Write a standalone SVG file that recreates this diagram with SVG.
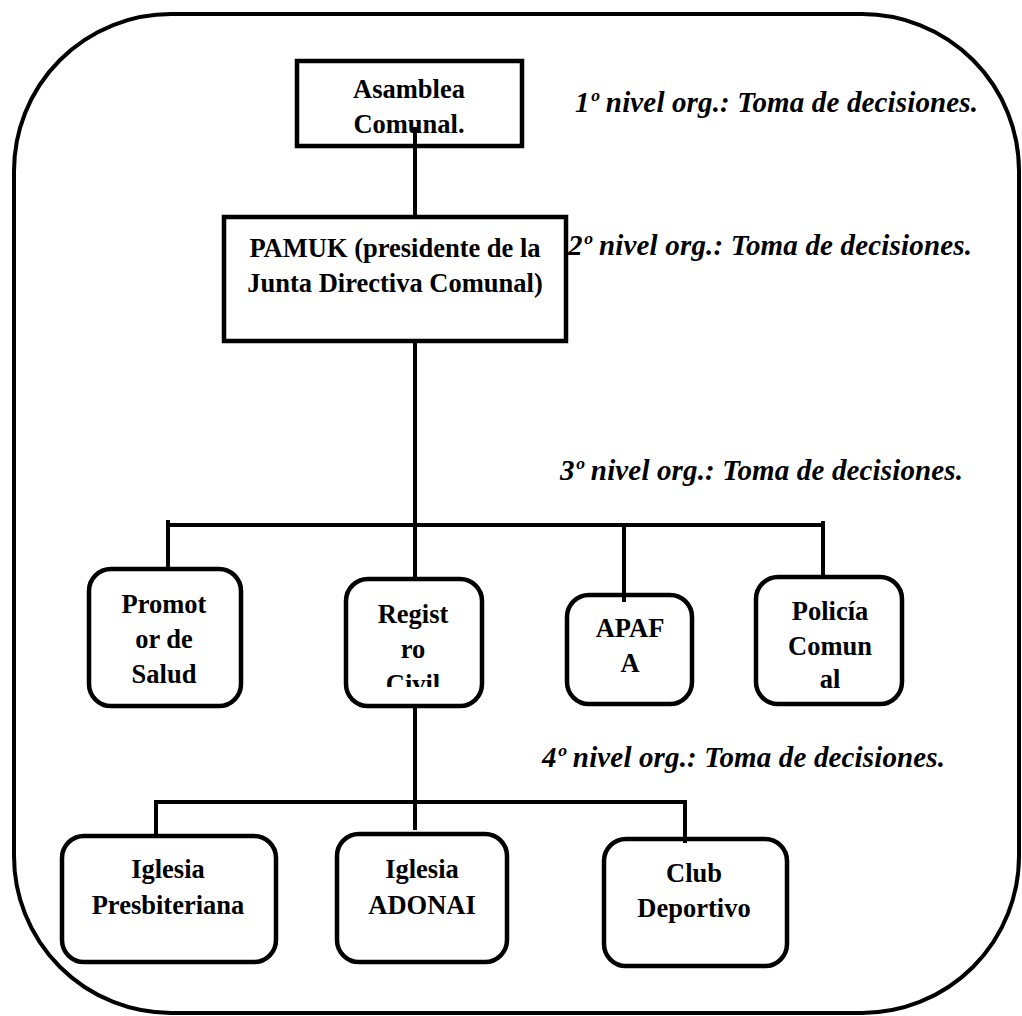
<svg xmlns="http://www.w3.org/2000/svg" width="1022" height="1016" viewBox="0 0 1022 1016">
<style>
.frame{fill:none;stroke:#000;stroke-width:4}
.box{fill:#fff;stroke:#000;stroke-width:4.5}
.conn{fill:none;stroke:#000;stroke-width:4}
.t{font-family:"Liberation Serif","Times New Roman",serif;font-weight:bold;font-size:26.5px;fill:#000;text-anchor:middle}
.lvl{font-family:"Liberation Serif","Times New Roman",serif;font-weight:bold;font-style:italic;font-size:29px;fill:#000}
</style>
<defs>
<clipPath id="clipReg"><rect x="346" y="579" width="136" height="108"/></clipPath>
</defs>
<rect width="1022" height="1016" fill="#fff"/>
<rect class="frame" x="14" y="14" width="1005" height="999" rx="157" ry="157"/>

<g id="node-asamblea">
<rect class="box" x="297" y="61" width="225" height="85"/>
<text class="t" x="409" y="98">Asamblea</text>
<text class="t" x="409" y="133">Comunal.</text>
</g>

<g id="node-pamuk">
<rect class="box" x="224" y="217" width="342" height="124"/>
<text class="t" x="395" y="257">PAMUK (presidente de la</text>
<text class="t" x="395" y="292">Junta Directiva Comunal)</text>
</g>

<g id="node-promotor">
<rect class="box" x="89" y="569" width="152" height="137" rx="22"/>
<text class="t" x="164" y="613">Promot</text>
<text class="t" x="164" y="648">or de</text>
<text class="t" x="164" y="683">Salud</text>
</g>

<g id="node-registro">
<rect class="box" x="346" y="579" width="136" height="127" rx="22"/>
<g clip-path="url(#clipReg)">
<text class="t" x="413" y="623">Regist</text>
<text class="t" x="413" y="658">ro</text>
<text class="t" x="413" y="693">Civil</text>
</g>
</g>

<g id="node-apafa">
<rect class="box" x="567" y="595" width="125" height="109" rx="22"/>
<text class="t" x="630" y="637">APAF</text>
<text class="t" x="630" y="672">A</text>
</g>

<g id="node-policia">
<rect class="box" x="756" y="577" width="146" height="127" rx="22"/>
<text class="t" x="830" y="620">Policía</text>
<text class="t" x="830" y="655">Comun</text>
<text class="t" x="830" y="688">al</text>
</g>

<g id="node-presbiteriana">
<rect class="box" x="62" y="836" width="214" height="126" rx="22"/>
<text class="t" x="168" y="878">Iglesia</text>
<text class="t" x="168" y="914">Presbiteriana</text>
</g>

<g id="node-adonai">
<rect class="box" x="337" y="834" width="170" height="128" rx="22"/>
<text class="t" x="422" y="878">Iglesia</text>
<text class="t" x="422" y="914">ADONAI</text>
</g>

<g id="node-club">
<rect class="box" x="604" y="839" width="183" height="127" rx="22"/>
<text class="t" x="694" y="882">Club</text>
<text class="t" x="694" y="917">Deportivo</text>
</g>

<g id="connectors">
<path class="conn" d="M415,127 V217"/>
<path class="conn" d="M415,341 V577"/>
<path class="conn" d="M168,525 H823"/>
<path class="conn" d="M168,520 V569"/>
<path class="conn" d="M624,525 V602"/>
<path class="conn" d="M823,521 V577"/>
<path class="conn" d="M415,706 V830"/>
<path class="conn" d="M156,802 H685"/>
<path class="conn" d="M156,800 V834"/>
<path class="conn" d="M685,800 V843"/>
</g>

<g id="labels">
<text class="lvl" x="575" y="112" textLength="403" lengthAdjust="spacing">1º nivel org.: Toma de decisiones.</text>
<text class="lvl" x="568" y="255" textLength="404" lengthAdjust="spacing">2º nivel org.: Toma de decisiones.</text>
<text class="lvl" x="560" y="480" textLength="403" lengthAdjust="spacing">3º nivel org.: Toma de decisiones.</text>
<text class="lvl" x="542" y="767" textLength="403" lengthAdjust="spacing">4º nivel org.: Toma de decisiones.</text>
</g>
</svg>
